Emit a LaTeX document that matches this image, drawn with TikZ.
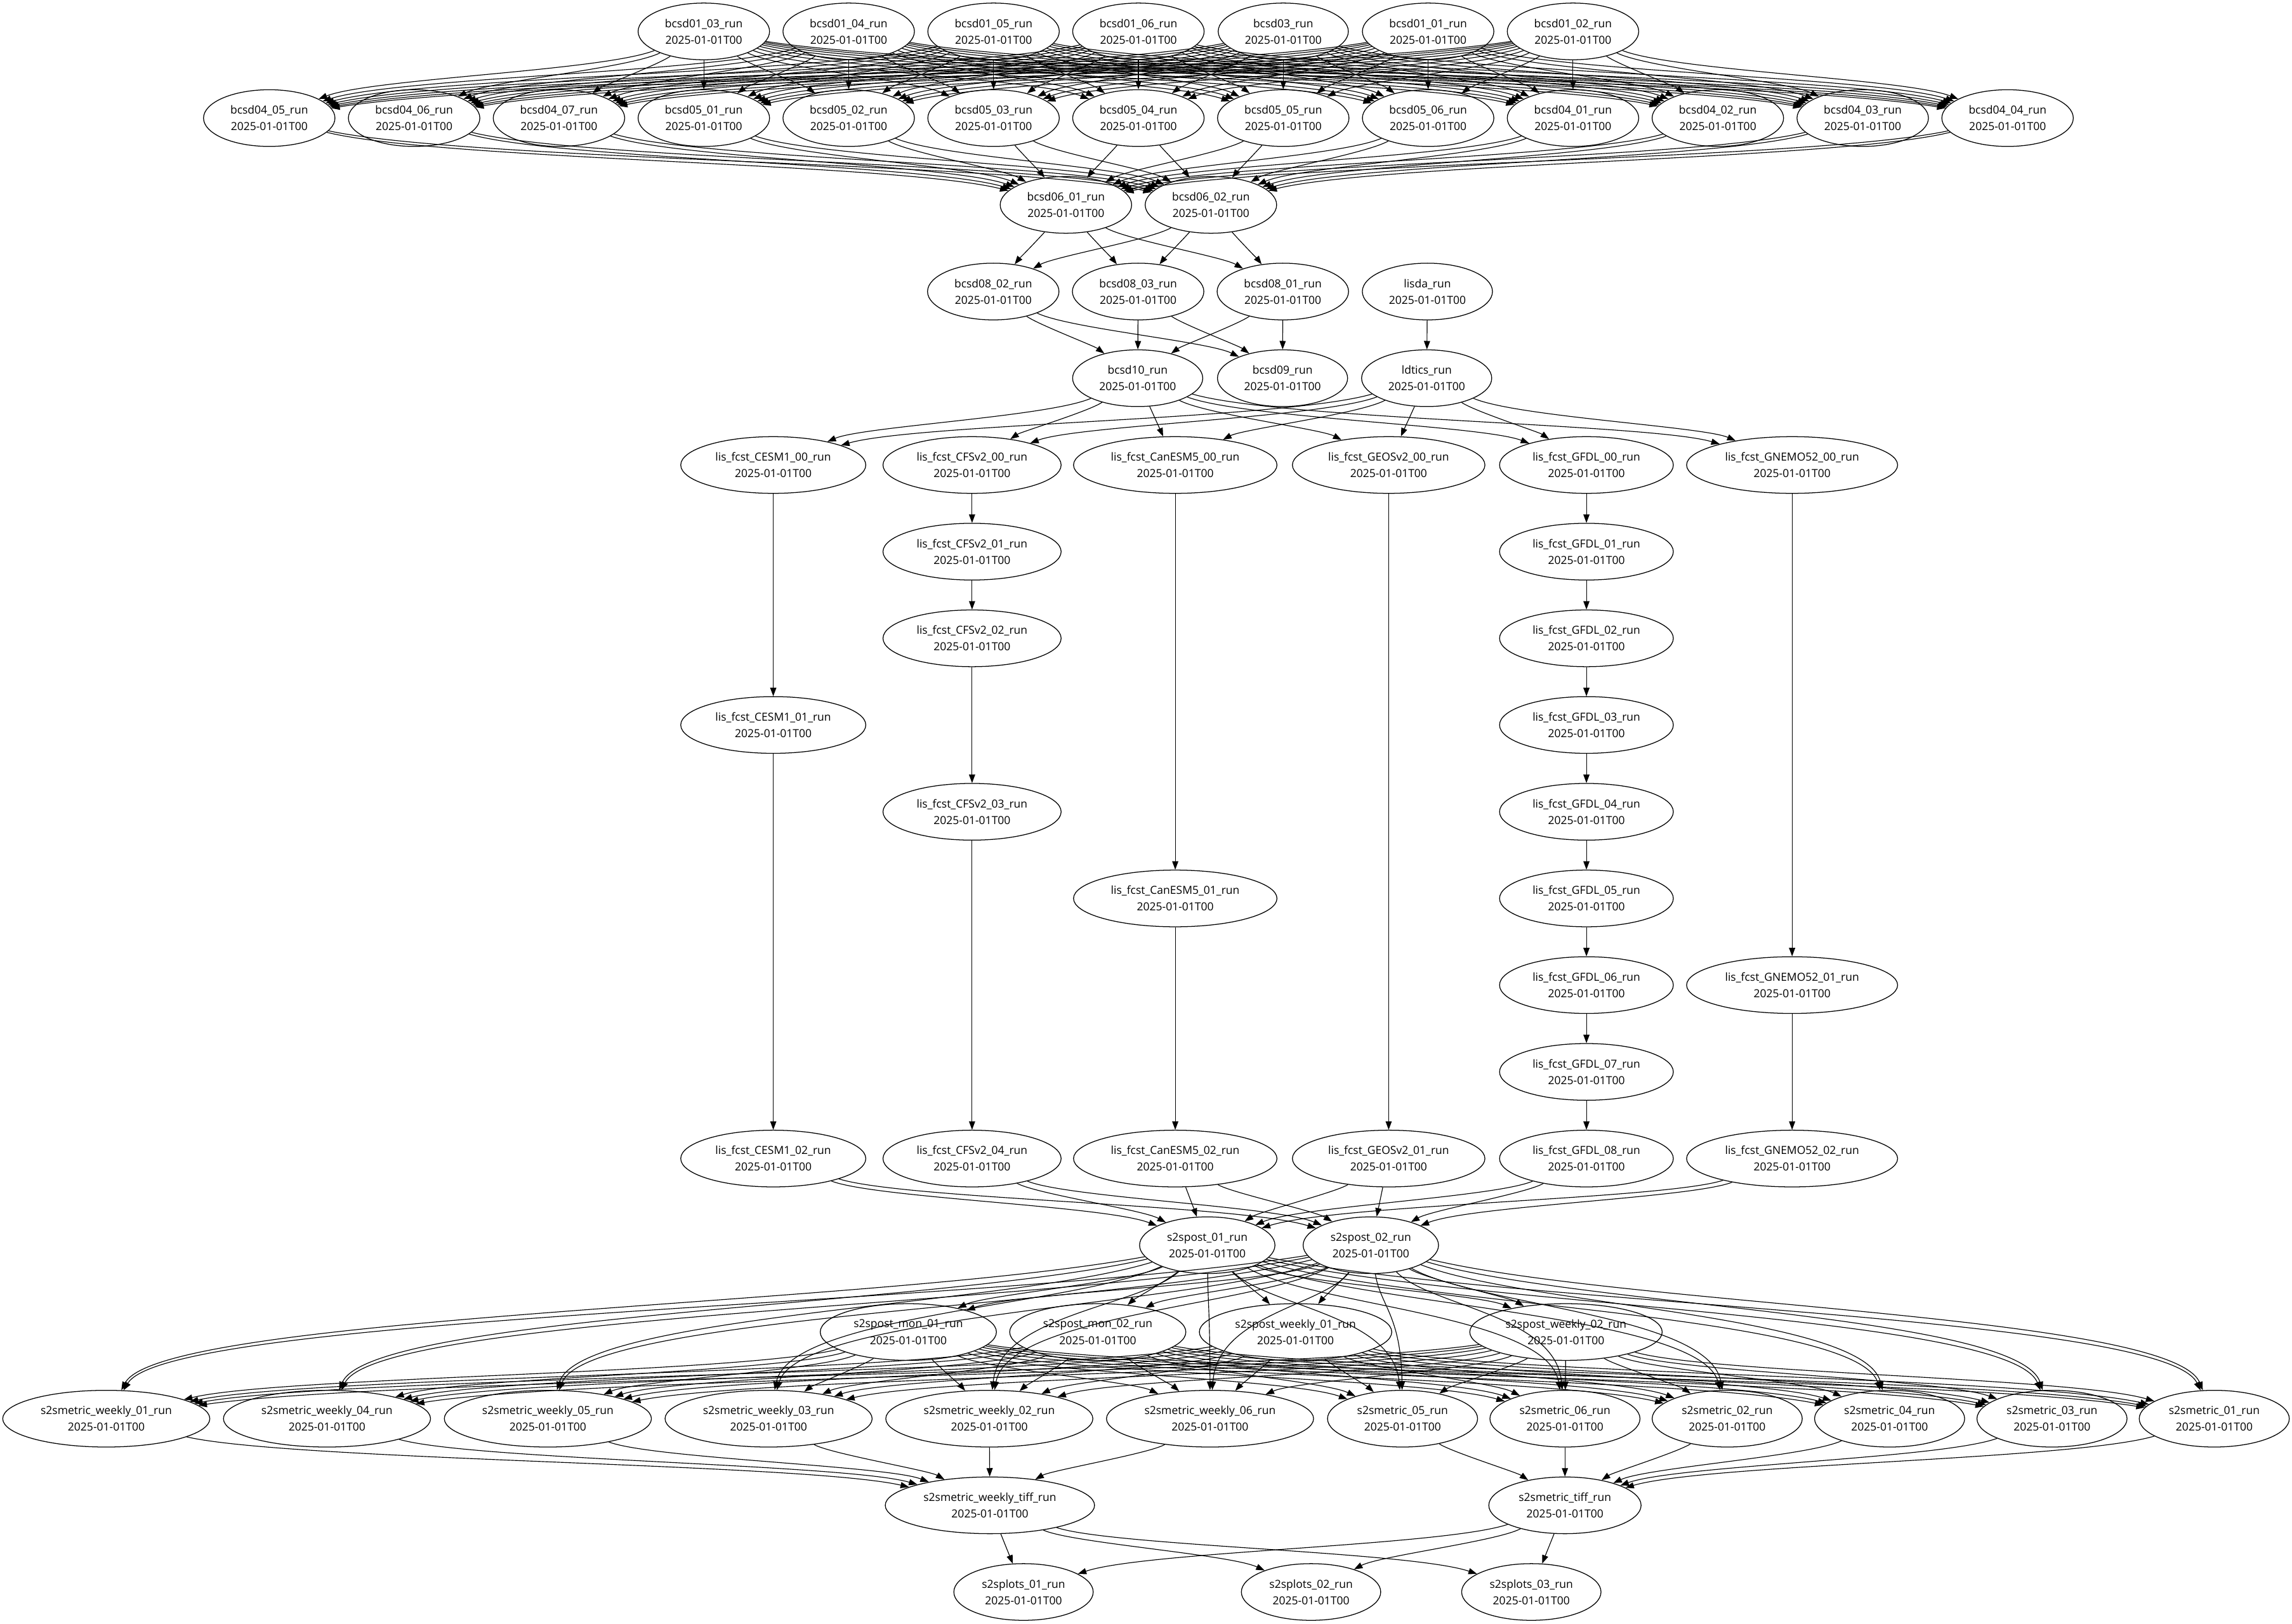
\documentclass[tikz,border=0pt]{standalone}
\usepackage{fontspec}
\setmainfont{Open Sans}
\usetikzlibrary{arrows.meta,shapes.geometric,calc}

\newcommand{\lbl}[1]{#1\_run\\2025-01-01T00}
% edge between neighbouring ranks: straight when steep, S-shaped when wide
\newcommand{\depend}[2]{%
  \draw[dep] let \p1=(#1.center), \p2=(#2.center),
      \n1={abs(\x2-\x1)/(abs(\y2-\y1)+0.01pt)},
      \n2={1/(1+(\n1/3)^2)},
      \n3={0.2+0.133*\n2}, \n4={0.5-0.167*\n2} in
    (#1) .. controls ({\x1+\n3*(\x2-\x1)},{\y1+\n4*(\y2-\y1)})
            and ({\x2-\n3*(\x2-\x1)},{\y2-\n4*(\y2-\y1)}) .. (#2);}
% edge that skips a rank: keeps high, then drops into the target
\newcommand{\fardep}[2]{%
  \draw[dep] let \p1=(#1.center), \p2=(#2.center) in
    (#1) .. controls ({\x1+0.3*(\x2-\x1)},{\y1+0.35*(\y2-\y1)})
            and ({\x2-0.05*(\x2-\x1)},{\y2-0.6*(\y2-\y1)}) .. (#2);}

\begin{document}
\begin{tikzpicture}
    [x=1pt, y=-1pt,
    job/.style={ellipse, draw, line width=0.55pt, inner xsep=5.2pt, inner ysep=2pt, minimum height=38.8pt, align=center, font=\fontsize{7.6}{11.3}\selectfont},
    dep/.style={-{Triangle[length=5.8pt,width=4.2pt]}, line width=0.5pt}]
    \useasboundingbox (0,0) rectangle (1568,1111);

    % bcsd chain
    \foreach \n/\l/\x in {b0103/bcsd01\_03/481.5, b0104/bcsd01\_04/580.6, b0105/bcsd01\_05/679.7,
        b0106/bcsd01\_06/778.8, b03/bcsd03/877.9, b0101/bcsd01\_01/977.0, b0102/bcsd01\_02/1076.1}
        \node [job] (\n) at (\x,21.5) {\lbl{\l}};
    \foreach \n/\l/\x in {b0405/bcsd04\_05/184.2, b0406/bcsd04\_06/283.3, b0407/bcsd04\_07/382.4,
        b0501/bcsd05\_01/481.5, b0502/bcsd05\_02/580.6, b0503/bcsd05\_03/679.7, b0504/bcsd05\_04/778.8,
        b0505/bcsd05\_05/877.9, b0506/bcsd05\_06/977.0, b0401/bcsd04\_01/1076.1, b0402/bcsd04\_02/1175.2,
        b0403/bcsd04\_03/1274.3, b0404/bcsd04\_04/1373.4}
        \node [job] (\n) at (\x,80.8) {\lbl{\l}};
    \node [job] (b0601) at (729.2,140.2) {\lbl{bcsd06\_01}};
    \node [job] (b0602) at (828.4,140.2) {\lbl{bcsd06\_02}};
    \node [job] (b0802) at (679.5,199.5) {\lbl{bcsd08\_02}};
    \node [job] (b0803) at (778.6,199.5) {\lbl{bcsd08\_03}};
    \node [job] (b0801) at (877.6,199.5) {\lbl{bcsd08\_01}};
    \node [job] (lisda) at (976.5,199.5) {\lbl{lisda}};
    \node [job] (b10) at (778.3,258.8) {\lbl{bcsd10}};
    \node [job] (b09) at (877.4,258.8) {\lbl{bcsd09}};
    \node [job] (ldtics) at (976.0,258.8) {\lbl{ldtics}};

    % forecasts
    \node [job] (cesm0) at (529,318.2) {\lbl{lis\_fcst\_CESM1\_00}};
    \node [job] (cesm1) at (529,496.1) {\lbl{lis\_fcst\_CESM1\_01}};
    \node [job] (cesm2) at (529,792.8) {\lbl{lis\_fcst\_CESM1\_02}};
    \node [job] (cfs0) at (665,318.2) {\lbl{lis\_fcst\_CFSv2\_00}};
    \node [job] (cfs1) at (665,377.5) {\lbl{lis\_fcst\_CFSv2\_01}};
    \node [job] (cfs2) at (665,436.8) {\lbl{lis\_fcst\_CFSv2\_02}};
    \node [job] (cfs3) at (665,555.5) {\lbl{lis\_fcst\_CFSv2\_03}};
    \node [job] (cfs4) at (665,792.8) {\lbl{lis\_fcst\_CFSv2\_04}};
    \node [job] (can0) at (804,318.2) {\lbl{lis\_fcst\_CanESM5\_00}};
    \node [job] (can1) at (804,614.8) {\lbl{lis\_fcst\_CanESM5\_01}};
    \node [job] (can2) at (804,792.8) {\lbl{lis\_fcst\_CanESM5\_02}};
    \node [job] (geos0) at (950,318.2) {\lbl{lis\_fcst\_GEOSv2\_00}};
    \node [job] (geos1) at (950,792.8) {\lbl{lis\_fcst\_GEOSv2\_01}};
    \foreach \i/\y in {0/318.2, 1/377.5, 2/436.8, 3/496.1, 4/555.5, 5/614.8, 6/674.1, 7/733.5, 8/792.8}
        \node [job] (gfdl\i) at (1085.3,\y) {\lbl{lis\_fcst\_GFDL\_0\i}};
    \node [job] (gnemo0) at (1226,318.2) {\lbl{lis\_fcst\_GNEMO52\_00}};
    \node [job] (gnemo1) at (1226,674.1) {\lbl{lis\_fcst\_GNEMO52\_01}};
    \node [job] (gnemo2) at (1226,792.8) {\lbl{lis\_fcst\_GNEMO52\_02}};

    % post processing
    \node [job] (post1) at (825.9,852.1) {\lbl{s2spost\_01}};
    \node [job] (post2) at (937.8,852.1) {\lbl{s2spost\_02}};
    \node [job] (mon1) at (621.4,911.5) {\lbl{s2spost\_mon\_01}};
    \node [job] (mon2) at (751.0,911.5) {\lbl{s2spost\_mon\_02}};
    \node [job] (wk1) at (886.3,911.5) {\lbl{s2spost\_weekly\_01}};
    \node [job] (wk2) at (1071.3,911.5) {\lbl{s2spost\_weekly\_02}};
    \foreach \n/\l/\x in {mw01/s2smetric\_weekly\_01/72.7, mw04/s2smetric\_weekly\_04/223.7,
        mw05/s2smetric\_weekly\_05/374.8, mw03/s2smetric\_weekly\_03/525.8, mw02/s2smetric\_weekly\_02/676.8,
        mw06/s2smetric\_weekly\_06/827.8, m05/s2smetric\_05/959.5, m06/s2smetric\_06/1070.6,
        m02/s2smetric\_02/1181.6, m04/s2smetric\_04/1292.7, m03/s2smetric\_03/1403.8, m01/s2smetric\_01/1514.8}
        \node [job] (\n) at (\x,970.8) {\lbl{\l}};
    \node [job] (mwtiff) at (677.2,1030.1) {\lbl{s2smetric\_weekly\_tiff}};
    \node [job] (mtiff) at (1070.6,1030.1) {\lbl{s2smetric\_tiff}};
    \node [job] (plot1) at (700.2,1089.4) {\lbl{s2splots\_01}};
    \node [job] (plot2) at (896.9,1089.4) {\lbl{s2splots\_02}};
    \node [job] (plot3) at (1047.6,1089.4) {\lbl{s2splots\_03}};

    % dependencies
    \foreach \s in {b0103,b0104,b0105,b0106,b03,b0101,b0102}
        \foreach \t in {b0405,b0406,b0407,b0501,b0502,b0503,b0504,b0505,b0506,b0401,b0402,b0403,b0404}
            \depend{\s}{\t};
    \foreach \s in {b0405,b0406,b0407,b0501,b0502,b0503,b0504,b0505,b0506,b0401,b0402,b0403,b0404}
        \foreach \t in {b0601,b0602}
            \depend{\s}{\t};
    \foreach \s in {b0601,b0602}
        \foreach \t in {b0802,b0803,b0801}
            \depend{\s}{\t};
    \foreach \s in {b0802,b0803,b0801}
        \foreach \t in {b10,b09}
            \depend{\s}{\t};
    \depend{lisda}{ldtics};
    \foreach \s in {b10,ldtics}
        \foreach \t in {cesm0,cfs0,can0,geos0,gfdl0,gnemo0}
            \depend{\s}{\t};
    \foreach \s/\t in {cesm0/cesm1, cesm1/cesm2, cfs0/cfs1, cfs1/cfs2, cfs2/cfs3, cfs3/cfs4,
        can0/can1, can1/can2, geos0/geos1, gnemo0/gnemo1, gnemo1/gnemo2,
        gfdl0/gfdl1, gfdl1/gfdl2, gfdl2/gfdl3, gfdl3/gfdl4, gfdl4/gfdl5, gfdl5/gfdl6, gfdl6/gfdl7, gfdl7/gfdl8}
        \depend{\s}{\t};
    \foreach \s in {cesm2,cfs4,can2,geos1,gfdl8,gnemo2}
        \foreach \t in {post1,post2}
            \depend{\s}{\t};
    \foreach \s in {post1,post2}
        \foreach \t in {mon1,mon2,wk1,wk2}
            \depend{\s}{\t};
    \foreach \s in {post1,post2}
        \foreach \t in {mw01,mw04,mw05,mw03,mw02,mw06,m05,m06,m02,m04,m03,m01}
            \fardep{\s}{\t};
    \foreach \s in {mon1,mon2,wk1,wk2}
        \foreach \t in {mw01,mw04,mw05,mw03,mw02,mw06,m05,m06,m02,m04,m03,m01}
            \depend{\s}{\t};
    \foreach \s in {mw01,mw04,mw05,mw03,mw02,mw06}
        \depend{\s}{mwtiff};
    \foreach \s in {m05,m06,m02,m04,m03,m01}
        \depend{\s}{mtiff};
    \foreach \s in {mwtiff,mtiff}
        \foreach \t in {plot1,plot2,plot3}
            \depend{\s}{\t};
\end{tikzpicture}
\end{document}
